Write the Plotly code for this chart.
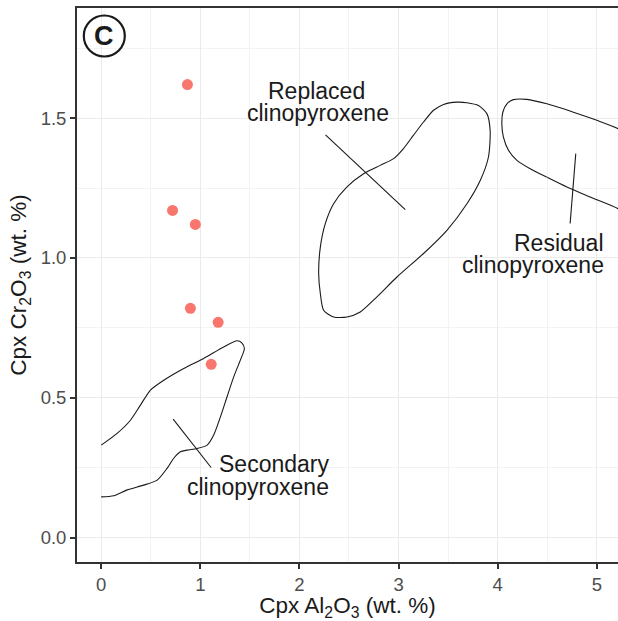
import plotly.graph_objects as go

# ---- data ----
pts_al2o3 = [0.87, 0.72, 0.95, 0.90, 1.18, 1.11]
pts_cr2o3 = [1.62, 1.17, 1.12, 0.82, 0.77, 0.62]

secondary_x = [0.00, 0.161, 0.295, 0.396, 0.497, 0.631, 0.833, 1.034, 1.236, 1.371, 1.421, 1.445,
               1.404, 1.337, 1.270, 1.203, 1.135, 1.069, 0.968, 0.867, 0.799, 0.732, 0.665,
               0.565, 0.429, 0.262, 0.127, 0.00]
secondary_y = [0.331, 0.373, 0.420, 0.474, 0.528, 0.563, 0.605, 0.641, 0.682, 0.704, 0.696, 0.676,
               0.635, 0.575, 0.504, 0.432, 0.367, 0.331, 0.319, 0.313, 0.307, 0.284, 0.248,
               0.206, 0.188, 0.171, 0.150, 0.146]

replaced_x = [3.589, 3.454, 3.353, 3.252, 3.151, 3.050, 2.950, 2.816, 2.647, 2.480, 2.345, 2.261,
              2.211, 2.194, 2.211, 2.244, 2.345, 2.480, 2.614, 2.782, 2.984, 3.252, 3.488,
              3.690, 3.824, 3.907, 3.924, 3.891, 3.806, 3.690, 3.589]
replaced_y = [1.557, 1.549, 1.528, 1.486, 1.439, 1.391, 1.355, 1.331, 1.301, 1.254, 1.194, 1.123,
              1.039, 0.944, 0.873, 0.813, 0.789, 0.789, 0.807, 0.861, 0.932, 1.016, 1.099,
              1.194, 1.277, 1.361, 1.456, 1.516, 1.545, 1.555, 1.557]

residual_x = [5.40, 5.215, 5.000, 4.764, 4.496, 4.294, 4.159, 4.093, 4.052, 4.042, 4.058, 4.109,
              4.194, 4.328, 4.496, 4.698, 4.933, 5.215, 5.40]
residual_y = [1.420, 1.462, 1.492, 1.521, 1.551, 1.567, 1.566, 1.551, 1.521, 1.480, 1.432, 1.385,
              1.349, 1.319, 1.289, 1.254, 1.218, 1.176, 1.130]

# label leader segments (x0, x1), (y0, y1)
lead_replaced_x = [2.263, 3.068]
lead_replaced_y = [1.440, 1.173]
lead_residual_x = [4.788, 4.731]
lead_residual_y = [1.373, 1.123]
lead_secondary_x = [0.726, 1.109]
lead_secondary_y = [0.424, 0.251]

x_ticks = [0, 1, 2, 3, 4, 5]
y_ticks = [0.0, 0.5, 1.0, 1.5]
y_tick_text = ["0.0", "0.5", "1.0", "1.5"]

FONT = "Liberation Sans, Arial, Helvetica, sans-serif"
LINE = dict(color="#1a1a1a", width=1.1)

fig = go.Figure()

for xs, ys in [(secondary_x, secondary_y), (replaced_x, replaced_y), (residual_x, residual_y)]:
    fig.add_trace(go.Scatter(x=xs, y=ys, mode="lines", line=dict(shape="spline", smoothing=0.7, **LINE),
                             hoverinfo="skip", showlegend=False))

for xs, ys in [(lead_replaced_x, lead_replaced_y), (lead_residual_x, lead_residual_y),
               (lead_secondary_x, lead_secondary_y)]:
    fig.add_trace(go.Scatter(x=xs, y=ys, mode="lines", line=LINE, hoverinfo="skip", showlegend=False))

fig.add_trace(go.Scatter(x=pts_al2o3, y=pts_cr2o3, mode="markers",
                         marker=dict(color="#F8766D", size=11, line=dict(width=0)),
                         showlegend=False))

# text labels (each line separately for tight line spacing)
labels = [
    ("Replaced", 316, 90.5, "center"),
    ("clinopyroxene", 317.5, 112.5, "center"),
    ("Residual", 606, 242.5, "right"),
    ("clinopyroxene", 606, 265, "right"),
    ("Secondary", 330.5, 464, "right"),
    ("clinopyroxene", 330.5, 487, "right"),
]
W, H = 618, 621
L, T, R, B = 77, 8, 0, 59
pw, ph = W - L - R, H - T - B
for txt, px, py, al in labels:
    fig.add_annotation(text=txt, xref="paper", yref="paper",
                       x=(px - L) / pw, y=(H - B - py) / ph,
                       xanchor=al, yanchor="middle", showarrow=False,
                       font=dict(family=FONT, size=23, color="#1a1a1a"))

# circled panel letter
cx, cy, r = 104.3, 36, 20.5
fig.add_shape(type="circle", xref="paper", yref="paper",
              x0=(cx - r - L) / pw, x1=(cx + r - L) / pw,
              y0=(H - B - (cy + r)) / ph, y1=(H - B - (cy - r)) / ph,
              line=dict(color="#1a1a1a", width=2.2))
fig.add_annotation(text="<b>C</b>", xref="paper", yref="paper",
                   x=(cx - L) / pw, y=(H - B - cy) / ph, xanchor="center", yanchor="middle",
                   showarrow=False, font=dict(family=FONT, size=27, color="#1a1a1a"))

fig.update_layout(
    width=W, height=H,
    margin=dict(l=L, r=R, t=T, b=B),
    paper_bgcolor="white", plot_bgcolor="white",
    font=dict(family=FONT),
    xaxis=dict(range=[-0.244, 5.214], tickvals=x_ticks, ticktext=[str(v) for v in x_ticks],
               showgrid=True, gridcolor="#EBEBEB", gridwidth=1.4,
               minor=dict(dtick=0.5, tick0=0, showgrid=True, gridcolor="#F3F3F3", gridwidth=0.8, ticks=""),
               zeroline=False, showline=True, linecolor="#333333", linewidth=1.8, mirror=True,
               ticks="outside", ticklen=5, tickwidth=1.5, tickcolor="#333333",
               tickfont=dict(size=18.5, color="#4D4D4D", family=FONT),
               title=dict(text="Cpx Al<sub>2</sub>O<sub>3</sub> (wt. %)", standoff=8,
                          font=dict(size=22.5, color="#1a1a1a", family=FONT))),
    yaxis=dict(range=[-0.0868, 1.8936], tickvals=y_ticks, ticktext=y_tick_text,
               showgrid=True, gridcolor="#EBEBEB", gridwidth=1.4,
               minor=dict(dtick=0.25, tick0=0, showgrid=True, gridcolor="#F3F3F3", gridwidth=0.8, ticks=""),
               zeroline=False, showline=True, linecolor="#333333", linewidth=1.8, mirror=False,
               ticks="outside", ticklen=5, tickwidth=1.5, tickcolor="#333333",
               tickfont=dict(size=18.5, color="#4D4D4D", family=FONT),
               title=dict(text="Cpx Cr<sub>2</sub>O<sub>3</sub> (wt. %)", standoff=8,
                          font=dict(size=22.5, color="#1a1a1a", family=FONT))),
)

fig.write_html("out.html")
